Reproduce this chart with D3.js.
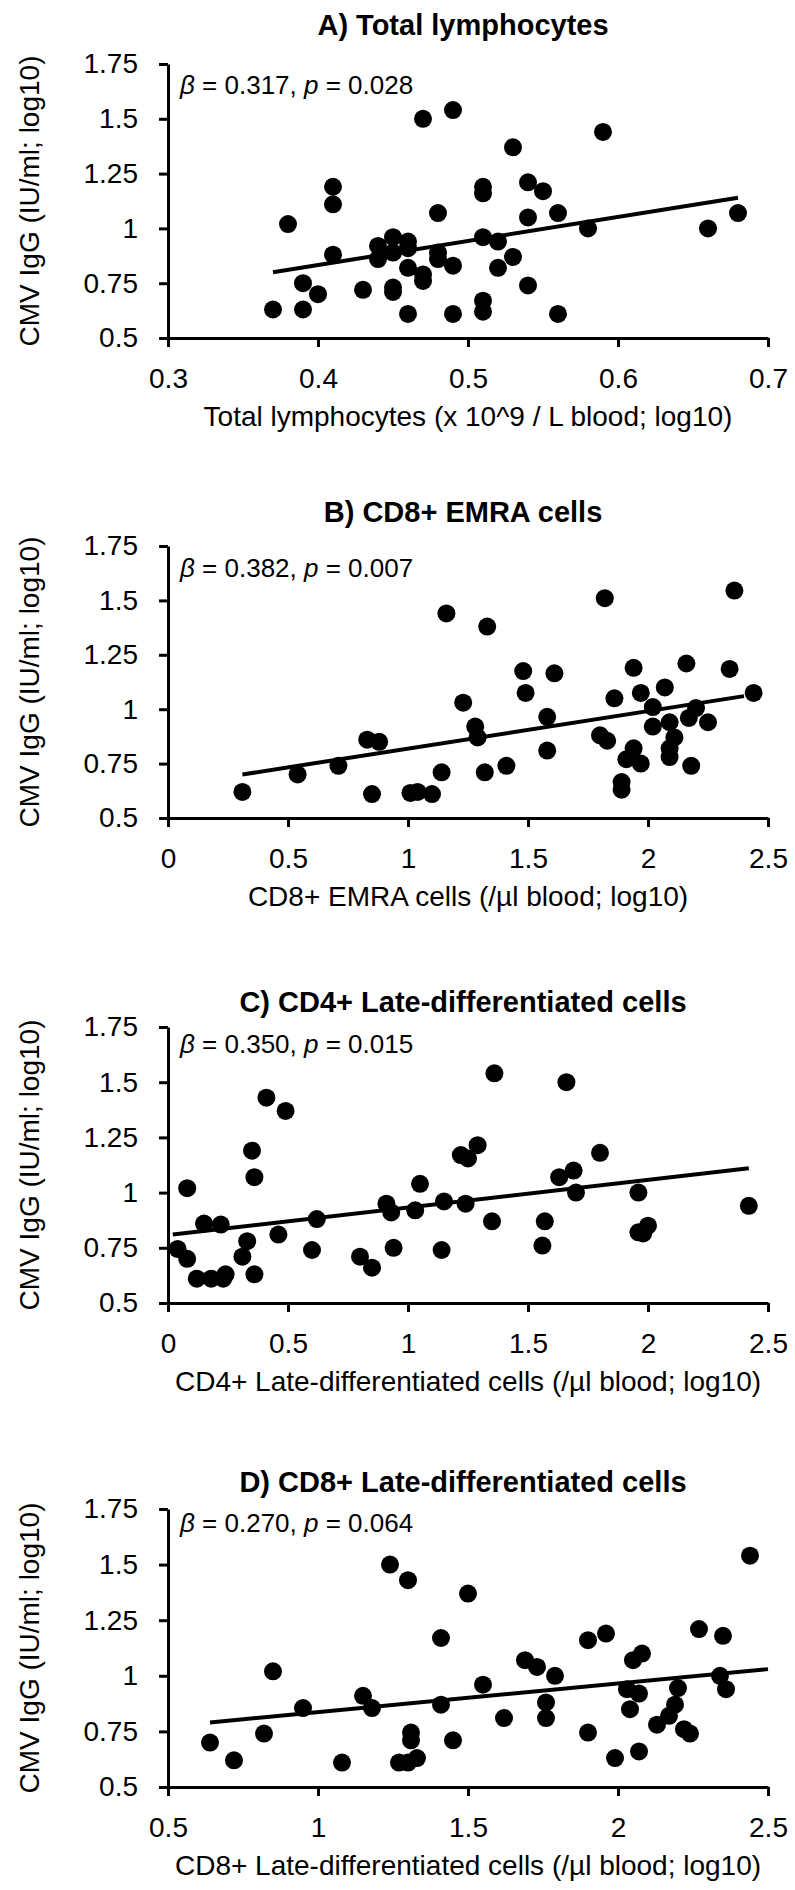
<!DOCTYPE html>
<html>
<head>
<meta charset="utf-8">
<script src="https://cdn.jsdelivr.net/npm/d3@7"></script>
<style>
  body { margin: 0; background: #fff; }
  svg { display: block; font-family: Arial, "Liberation Sans", sans-serif; }
</style>
</head>
<body>
<div id="chart"></div>
<script>
// panel texts
var titles = ["A) Total lymphocytes", "B) CD8+ EMRA cells",
              "C) CD4+ Late-differentiated cells", "D) CD8+ Late-differentiated cells"];
var xLabels = ["Total lymphocytes (x 10^9 / L blood; log10)", "CD8+ EMRA cells (/µl blood; log10)",
               "CD4+ Late-differentiated cells (/µl blood; log10)", "CD8+ Late-differentiated cells (/µl blood; log10)"];
var yLabel = "CMV IgG (IU/ml; log10)";
var betas = ["0.317", "0.382", "0.350", "0.270"];
var pvals = ["0.028", "0.007", "0.015", "0.064"];

var yTicks = [0.5, 0.75, 1, 1.25, 1.5, 1.75];
var xTicksA = [0.3, 0.4, 0.5, 0.6, 0.7];
var xTicksB = [0, 0.5, 1, 1.5, 2, 2.5];
var xTicksC = [0, 0.5, 1, 1.5, 2, 2.5];
var xTicksD = [0.5, 1, 1.5, 2, 2.5];

// A) total lymphocytes
var lymphX = [0.37,0.38,0.39,0.39,0.40,0.41,0.41,0.41,0.43,0.44,0.44,0.45,0.45,0.45,0.45,0.46,0.46,0.46,0.46,0.47,0.47,0.47,0.48,0.48,0.48,0.49,0.49,0.49,0.51,0.51,0.51,0.51,0.51,0.52,0.52,0.53,0.53,0.54,0.54,0.54,0.55,0.56,0.56,0.58,0.59,0.66,0.68];
var lymphY = [0.63,1.02,0.75,0.63,0.70,1.19,1.11,0.88,0.72,0.92,0.86,0.96,0.89,0.73,0.71,0.94,0.91,0.82,0.61,1.50,0.79,0.76,1.07,0.89,0.86,1.54,0.83,0.61,1.19,1.16,0.96,0.67,0.62,0.94,0.82,1.37,0.87,1.21,1.05,0.74,1.17,1.07,0.61,1.00,1.44,1.00,1.07];
var lymphFit = [[0.37, 0.80], [0.68, 1.14]];

// B) CD8+ EMRA
var emraX = [0.31,0.54,0.71,0.83,0.88,0.85,1.01,1.04,1.10,1.14,1.16,1.23,1.28,1.29,1.33,1.32,1.41,1.48,1.49,1.58,1.58,1.61,1.82,1.80,1.83,1.86,1.89,1.89,1.91,1.94,1.97,1.94,1.97,2.02,2.02,2.07,2.09,2.11,2.09,2.09,2.16,2.17,2.20,2.18,2.25,2.34,2.36,2.44];
var emraY = [0.62,0.70,0.74,0.86,0.85,0.61,0.615,0.62,0.61,0.71,1.44,1.03,0.92,0.87,1.38,0.71,0.74,1.175,1.075,0.965,0.81,1.165,1.51,0.88,0.855,1.05,0.665,0.63,0.77,0.82,0.75,1.19,1.075,1.01,0.92,1.10,0.94,0.87,0.82,0.78,1.21,0.96,1.005,0.74,0.94,1.185,1.545,1.075];
var emraFit = [[0.31, 0.70], [2.40, 1.06]];

// C) CD4+ late-differentiated
var cd4X = [0.04,0.08,0.08,0.12,0.15,0.18,0.22,0.23,0.24,0.33,0.31,0.36,0.35,0.36,0.41,0.49,0.46,0.62,0.60,0.80,0.85,0.91,0.93,0.94,1.03,1.05,1.14,1.15,1.22,1.25,1.29,1.24,1.36,1.35,1.56,1.57,1.66,1.63,1.69,1.70,1.80,1.96,1.96,1.98,2.00,2.42];
var cd4Y = [0.745,0.70,1.02,0.61,0.86,0.61,0.855,0.61,0.63,0.78,0.71,0.63,1.19,1.07,1.43,1.37,0.81,0.88,0.74,0.71,0.66,0.95,0.91,0.75,0.92,1.04,0.74,0.96,1.17,1.155,1.215,0.95,1.54,0.87,0.76,0.87,1.50,1.07,1.10,1.00,1.18,1.00,0.82,0.815,0.85,0.94];
var cd4Fit = [[0.02, 0.81], [2.42, 1.11]];

// D) CD8+ late-differentiated
var cd8X = [0.64,0.72,0.82,0.85,0.95,1.08,1.15,1.18,1.24,1.30,1.50,1.41,1.55,1.41,1.31,1.31,1.27,1.30,1.33,1.45,1.62,1.69,1.73,1.79,1.76,1.76,1.90,1.96,1.90,1.99,2.07,2.05,2.08,2.03,2.07,2.04,2.20,2.19,2.17,2.13,2.22,2.24,2.27,2.35,2.34,2.36,2.44];
var cd8Y = [0.70,0.62,0.74,1.02,0.855,0.61,0.91,0.855,1.50,1.43,1.37,1.17,0.96,0.87,0.745,0.71,0.61,0.61,0.63,0.71,0.81,1.07,1.04,1.00,0.88,0.81,1.16,1.19,0.745,0.63,0.66,1.07,1.10,0.94,0.92,0.85,0.945,0.87,0.82,0.78,0.76,0.74,1.21,1.18,1.00,0.94,1.54];
var cd8Fit = [[0.64, 0.79], [2.50, 1.03]];

var panels = [
  { xs: lymphX, ys: lymphY, fit: lymphFit, xTicks: xTicksA, top: 64, bottom: 338, titleY: 35, noteY: 94 },
  { xs: emraX, ys: emraY, fit: emraFit, xTicks: xTicksB, top: 546, bottom: 818, titleY: 522, noteY: 577 },
  { xs: cd4X, ys: cd4Y, fit: cd4Fit, xTicks: xTicksC, top: 1027, bottom: 1303, titleY: 1012, noteY: 1053 },
  { xs: cd8X, ys: cd8Y, fit: cd8Fit, xTicks: xTicksD, top: 1509, bottom: 1787, titleY: 1492, noteY: 1532 }
];

var WIDTH = 795, HEIGHT = 1890;
var LEFT = 168, RIGHT = 768;
var fmt = d3.format("~g");

var svg = d3.select("#chart").append("svg")
    .attr("width", WIDTH)
    .attr("height", HEIGHT);

panels.forEach(function(p, i) {
  var ext = d3.extent(p.xTicks);
  var x = d3.scaleLinear().domain(ext).range([LEFT, RIGHT]);
  var y = d3.scaleLinear().domain([0.5, 1.75]).range([p.bottom, p.top]);
  var g = svg.append("g");

  var yAxis = d3.axisLeft(y).tickValues(yTicks).tickFormat(fmt)
      .tickSize(9).tickSizeOuter(0).tickPadding(21);
  var xAxis = d3.axisBottom(x).tickValues(p.xTicks).tickFormat(fmt)
      .tickSize(9).tickSizeOuter(0).tickPadding(21);

  var ya = g.append("g").attr("transform", "translate(" + LEFT + ",0)").call(yAxis);
  var xa = g.append("g").attr("transform", "translate(0," + p.bottom + ")").call(xAxis);
  [ya, xa].forEach(function(a) {
    a.attr("font-family", null).attr("font-size", null);
    a.select(".domain").attr("stroke", "#000").attr("stroke-width", 3);
    a.selectAll(".tick line").attr("stroke", "#000").attr("stroke-width", 3);
    a.selectAll(".tick text").attr("fill", "#000").style("font-size", "28px");
  });

  // title
  g.append("text")
    .attr("x", 463).attr("y", p.titleY)
    .attr("text-anchor", "middle")
    .style("font-size", "29px").style("font-weight", "bold")
    .text(titles[i]);

  // stats note
  var note = g.append("text")
    .attr("x", 180).attr("y", p.noteY)
    .style("font-size", "26px");
  note.append("tspan").style("font-style", "italic").text("β");
  note.append("tspan").text(" = " + betas[i] + ", ");
  note.append("tspan").style("font-style", "italic").text("p");
  note.append("tspan").text(" = " + pvals[i]);

  // axis titles
  g.append("text")
    .attr("transform", "translate(29," + ((p.top + p.bottom) / 2) + ") rotate(-90)")
    .attr("text-anchor", "middle")
    .attr("dominant-baseline", "central")
    .style("font-size", "28px")
    .text(yLabel);
  g.append("text")
    .attr("x", (LEFT + RIGHT) / 2).attr("y", p.bottom + 88)
    .attr("text-anchor", "middle")
    .style("font-size", "28px")
    .text(xLabels[i]);

  // points
  g.append("g").selectAll("circle")
    .data(p.xs.map(function(d, k) { return [d, p.ys[k]]; }))
    .join("circle")
      .attr("cx", function(d) { return x(d[0]); })
      .attr("cy", function(d) { return y(d[1]); })
      .attr("r", 9)
      .attr("fill", "#000");

  // regression line
  g.append("path")
    .datum(p.fit)
    .attr("fill", "none")
    .attr("stroke", "#000")
    .attr("stroke-width", 4)
    .attr("d", d3.line().x(function(d) { return x(d[0]); }).y(function(d) { return y(d[1]); }));
});
</script>
</body>
</html>
